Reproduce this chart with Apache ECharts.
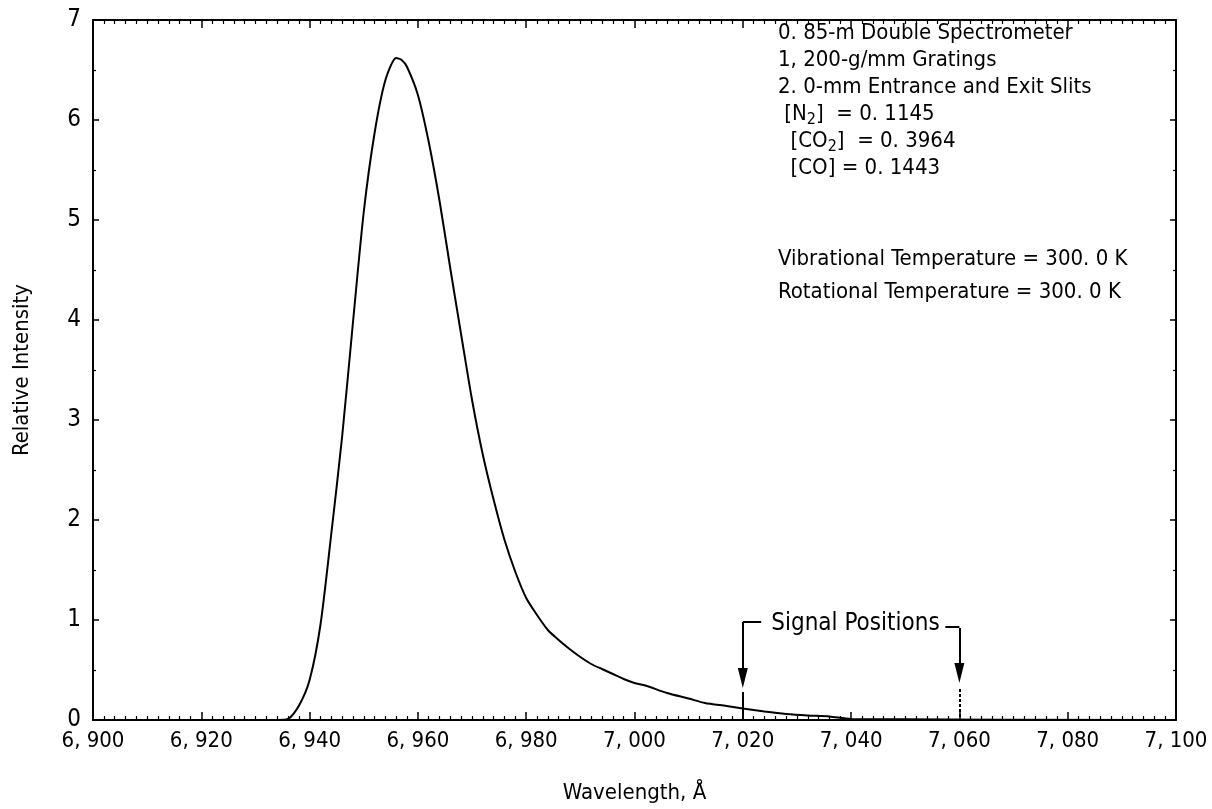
<!DOCTYPE html>
<html>
<head>
<meta charset="utf-8">
<script src="https://cdn.jsdelivr.net/npm/echarts@6/dist/echarts.min.js"></script>
<style>
  html, body { margin: 0; padding: 0; background: #fff; }
  #main { width: 1212px; height: 809px; }
</style>
</head>
<body>
<div id="main"></div>
<script>
// wavelength (angstrom) and relative intensity
const wavelength = [
  6900, 6934, 6936, 6938, 6940, 6942, 6944, 6946, 6948, 6950,
  6952, 6954, 6956, 6957, 6958, 6960, 6962, 6964, 6966, 6968,
  6970, 6972, 6974, 6976, 6978, 6980, 6982, 6984, 6986, 6988,
  6990, 6992, 6994, 6996, 6998, 7000, 7002, 7006, 7010, 7013,
  7017, 7020, 7024, 7028, 7032, 7036, 7040, 7100
];
const intensity = [
  0, 0, 0.01, 0.14, 0.40, 0.95, 1.86, 2.83, 3.97, 5.08,
  5.87, 6.40, 6.62, 6.60, 6.53, 6.25, 5.78, 5.19, 4.51, 3.85,
  3.20, 2.65, 2.20, 1.80, 1.48, 1.22, 1.05, 0.90, 0.80, 0.71,
  0.63, 0.56, 0.51, 0.46, 0.41, 0.37, 0.345, 0.27, 0.215, 0.17,
  0.14, 0.115, 0.085, 0.06, 0.045, 0.035, 0.01, 0
];
const signalPositions = [7020, 7060];
const yTicks = ['0', '1', '2', '3', '4', '5', '6', '7'];

const infoLines = [
  '0. 85-m Double Spectrometer',
  '1, 200-g/mm Gratings',
  '2. 0-mm Entrance and Exit Slits',
  ' [N{s|2}]  = 0. 1145',
  '  [CO{s|2}]  = 0. 3964',
  '  [CO] = 0. 1443'
];
const tempLines = [
  'Vibrational Temperature = 300. 0 K',
  'Rotational Temperature = 300. 0 K'
];

const FONT = '"Liberation Sans Narrow", "DejaVu Sans Condensed", "Liberation Sans", sans-serif';

const fmtWave = (v) => {
  const th = Math.floor(v / 1000);
  const rest = String(v % 1000).padStart(3, '0');
  return th + ', ' + rest;
};

const chart = echarts.init(document.getElementById('main'));

const axisLine = { show: true, onZero: false, lineStyle: { color: '#000', width: 2 } };

const signalLines = [];
// left signal: solid line through to axis
signalLines.push([{ coord: [signalPositions[0], 0.98] }, { coord: [signalPositions[0], 0.42], symbol: 'triangle' }]);
signalLines.push([{ coord: [signalPositions[0], 0.28] }, { coord: [signalPositions[0], 0] }]);
signalLines.push([{ coord: [signalPositions[0], 0.98] }, { coord: [signalPositions[0] + 3.4, 0.98] }]);
// right signal
signalLines.push([{ coord: [signalPositions[1], 0.92] }, { coord: [signalPositions[1], 0.47], symbol: 'triangle' }]);
signalLines.push([{ coord: [signalPositions[1], 0.31] }, { coord: [signalPositions[1], 0], lineStyle: { type: [3, 2] } }]);
signalLines.push([{ coord: [signalPositions[1] - 2.6, 0.93] }, { coord: [signalPositions[1], 0.93] }]);

chart.setOption({
  animation: false,
  backgroundColor: '#fff',
  grid: { left: 93, right: 36, top: 20, bottom: 88 },
  xAxis: [
    {
      type: 'value',
      min: 6900,
      max: 7100,
      interval: 20,
      name: 'Wavelength, Å',
      nameLocation: 'middle',
      nameGap: 62,
      nameTextStyle: { color: '#000', fontFamily: FONT, fontSize: 22 },
      axisLine: axisLine,
      axisTick: { show: true, inside: true, length: 8, lineStyle: { color: '#000', width: 1.5 } },
      minorTick: { show: true, splitNumber: 10, length: 4, lineStyle: { color: '#000', width: 1.2 } },
      axisLabel: { color: '#000', fontFamily: FONT, fontSize: 22, margin: 10, formatter: fmtWave },
      splitLine: { show: false }
    },
    {
      type: 'value',
      position: 'top',
      min: 6900,
      max: 7100,
      interval: 20,
      axisLine: axisLine,
      axisTick: { show: true, inside: true, length: 8, lineStyle: { color: '#000', width: 1.5 } },
      minorTick: { show: true, splitNumber: 10, length: 4, lineStyle: { color: '#000', width: 1.2 } },
      axisLabel: { show: false },
      splitLine: { show: false }
    }
  ],
  yAxis: [
    {
      type: 'value',
      min: 0,
      max: 7,
      interval: 1,
      name: 'Relative Intensity',
      nameLocation: 'middle',
      nameGap: 60,
      nameTextStyle: { color: '#000', fontFamily: FONT, fontSize: 22 },
      axisLine: axisLine,
      axisTick: { show: true, inside: true, length: 6, lineStyle: { color: '#000', width: 1.5 } },
      minorTick: { show: true, splitNumber: 2, length: 3, lineStyle: { color: '#000', width: 1.2 } },
      axisLabel: { color: '#000', fontFamily: FONT, fontSize: 24, margin: 12, formatter: (v) => yTicks[v] },
      splitLine: { show: false }
    },
    {
      type: 'value',
      position: 'right',
      min: 0,
      max: 7,
      interval: 1,
      axisLine: axisLine,
      axisTick: { show: true, inside: true, length: 6, lineStyle: { color: '#000', width: 1.5 } },
      minorTick: { show: true, splitNumber: 2, length: 3, lineStyle: { color: '#000', width: 1.2 } },
      axisLabel: { show: false },
      splitLine: { show: false }
    }
  ],
  series: [
    {
      type: 'line',
      data: wavelength.map((w, i) => [w, intensity[i]]),
      showSymbol: false,
      smooth: 0.25,
      lineStyle: { color: '#000', width: 2 },
      z: 3,
      markLine: {
        silent: true,
        symbol: ['none', 'none'],
        symbolSize: [10, 20],
        label: { show: false },
        lineStyle: { color: '#000', width: 2, type: 'solid' },
        itemStyle: { color: '#000' },
        data: signalLines
      },
      markPoint: {
        silent: true,
        symbol: 'rect',
        symbolSize: 0,
        data: [{ coord: [7040.8, 0.96] }],
        label: {
          show: true,
          position: 'inside',
          formatter: 'Signal Positions',
          color: '#000',
          fontFamily: FONT,
          fontSize: 24
        }
      }
    }
  ],
  graphic: [
    {
      type: 'text',
      left: 778,
      top: 20,
      style: {
        text: infoLines.join('\n'),
        fontFamily: FONT,
        fontSize: 22,
        lineHeight: 27,
        fill: '#000',
        rich: {
          s: { fontFamily: FONT, fontSize: 16, padding: [10, 0, 0, 0] }
        }
      }
    },
    {
      type: 'text',
      left: 778,
      top: 243,
      style: {
        text: tempLines.join('\n'),
        fontFamily: FONT,
        fontSize: 22,
        lineHeight: 33,
        fill: '#000'
      }
    }
  ]
});
</script>
</body>
</html>
